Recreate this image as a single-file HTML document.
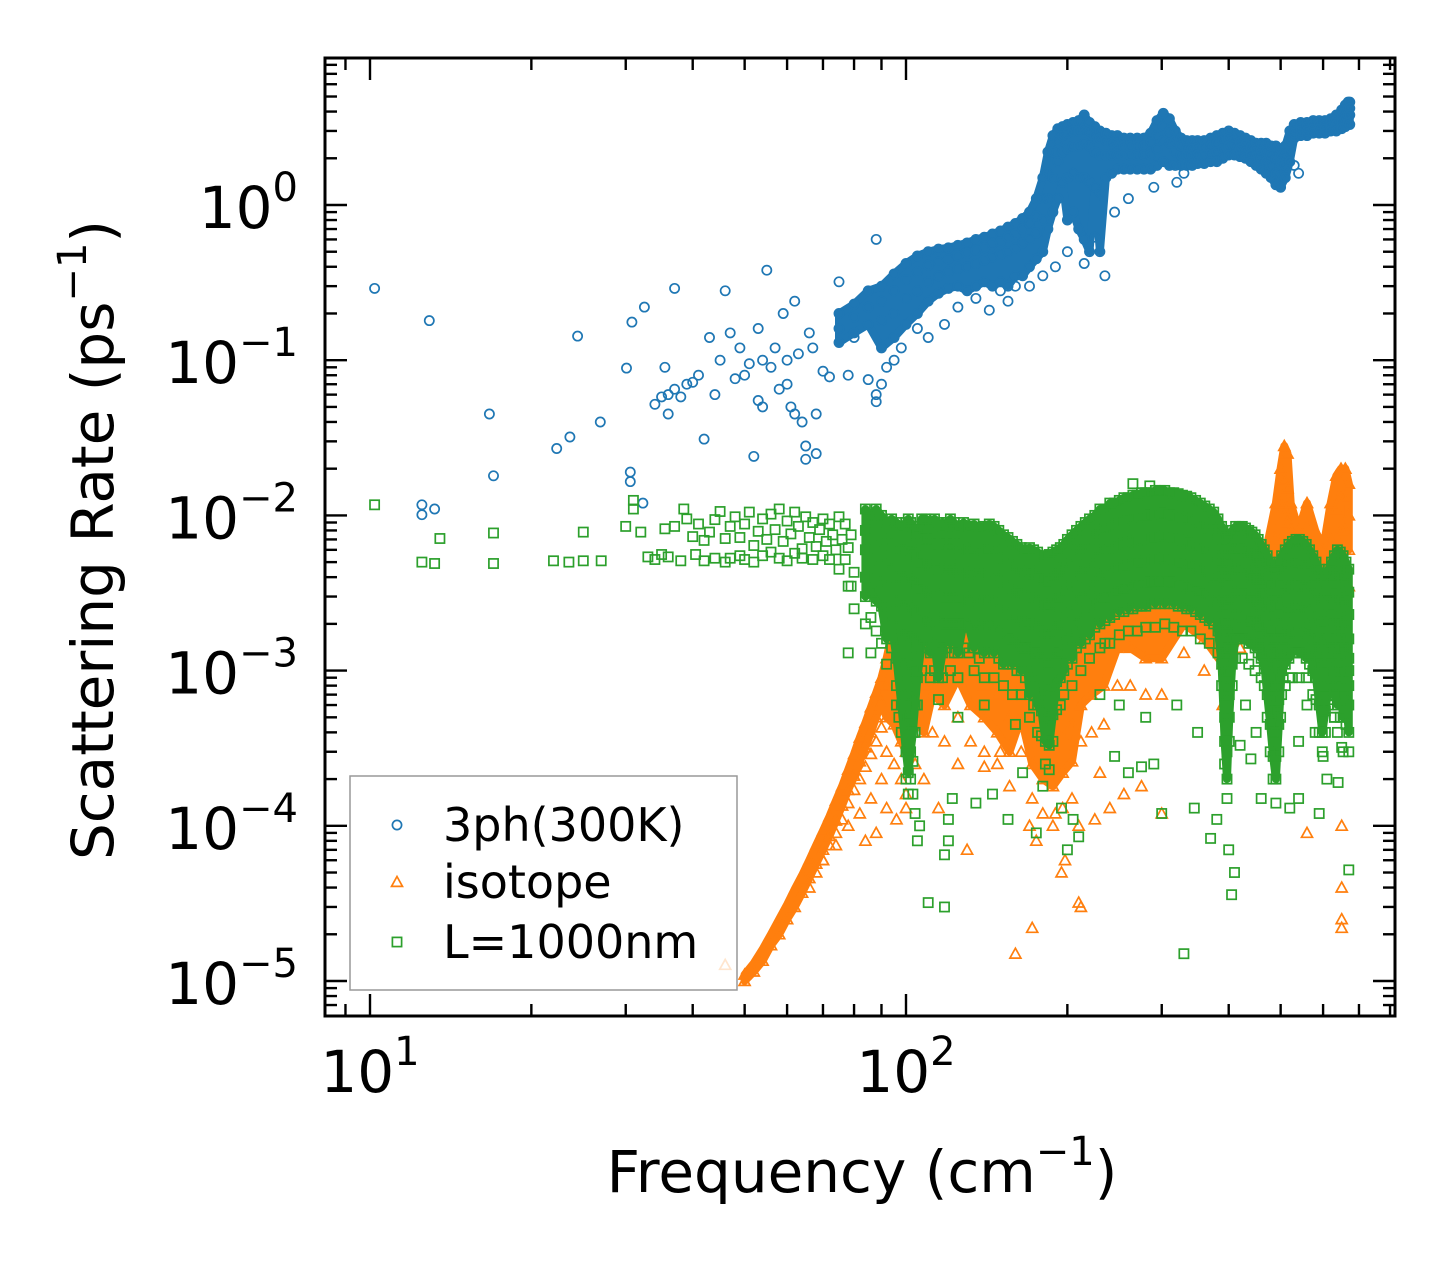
<!DOCTYPE html>
<html><head><meta charset="utf-8"><style>
html,body{margin:0;padding:0;background:#fff;}
svg{display:block;font-family:"DejaVu Sans","Liberation Sans",sans-serif;}
</style></head><body>
<svg id="chart" width="1455" height="1265" viewBox="0 0 1455 1265" xmlns="http://www.w3.org/2000/svg">
<rect x="0" y="0" width="1455" height="1265" fill="#fff"/>
<g id="plotArea"></g>
<g id="axes"></g>
</svg>
<script>
// ---------- data ----------
const xTickExps = [1, 2];
const yTickExps = [0, -1, -2, -3, -4, -5];
const xLabelText = "Frequency (cm";
const yLabelText = "Scattering Rate (ps";
const legendLabels = ["3ph(300K)", "isotope", "L=1000nm"];

const blueScatter = [[10.2,0.29],[12.9,0.18],[16.7,0.045],[17,0.018],[12.5,0.0117],[13.2,0.011],[12.5,0.0101],[22.3,0.027],[23.6,0.032],[24.4,0.143],[26.9,0.040],[30.1,0.089],[30.8,0.176],[30.6,0.019],[30.6,0.0165],[32.5,0.22],[32.3,0.012],[34,0.052],[35,0.058],[36,0.06],[36,0.045],[35.5,0.09],[37,0.29],[37,0.065],[38,0.058],[39,0.07],[40,0.072],[41,0.08],[42,0.031],[43,0.14],[44,0.06],[45,0.1],[46,0.28],[47,0.15],[48,0.076],[49,0.12],[50,0.08],[51,0.095],[52,0.024],[53,0.055],[53,0.16],[54,0.1],[54,0.05],[55,0.38],[56,0.09],[57,0.12],[58,0.065],[59,0.2],[60,0.07],[60,0.1],[61,0.05],[62,0.24],[62,0.045],[63,0.11],[64,0.04],[65,0.028],[65,0.023],[66,0.15],[67,0.12],[68,0.025],[68,0.045],[70,0.085],[72,0.078],[75,0.32],[78,0.08],[80,0.14],[85,0.075],[88,0.06],[88,0.054],[88,0.6],[90,0.07],[92,0.09],[95,0.1],[98,0.12],[105,0.16],[110,0.14],[118,0.17],[125,0.22],[135,0.25],[143,0.21],[150,0.28],[155,0.24],[160,0.3],[170,0.3],[180,0.35],[190,0.4],[200,0.5],[215,0.42],[225,0.62],[235,0.35],[245,0.9],[260,1.1],[290,1.3],[320,1.4],[330,1.6],[530,1.8],[540,1.6]];
const blueGroups = [[75,[.2,.16,.13]],[80,[.23,.19,.15]],[85,[.28,.22,.17]],[90,[.3,.24,.18,.12]],[95,[.36,.28,.2,.14]],[100,[.42,.33,.25,.17]],[105,[.47,.37,.28,.2]],[110,[.5,.41,.32,.24]],[115,[.52,.43,.35,.27]],[120,[.53,.45,.37,.29]],[125,[.55,.47,.39,.3]],[130,[.57,.49,.4,.28]],[135,[.6,.51,.42,.3]],[140,[.62,.53,.44,.32]],[145,[.65,.56,.46,.3]],[150,[.68,.58,.48,.32]],[155,[.72,.62,.5,.3]],[160,[.76,.65,.53,.35]],[165,[.82,.7,.57,.35]],[170,[.9,.76,.6,.4]],[175,[1.1,.85,.66,.45]],[180,[1.5,1.1,.8,.5]],[184,[2.2,1.6,1.1,.7]],[188,[2.8,2.2,1.5,.9]],[192,[3.1,2.6,1.9,1.1]],[196,[3.2,2.8,2.2,1.4]],[200,[3.3,2.9,2.3,1.5,.8]],[205,[3.4,3.0,2.4,1.6,.9]],[210,[3.5,3.0,2.4,1.5,.7]],[215,[3.8,3.1,2.5,1.5,.6]],[220,[3.4,3.0,2.4,1.4,.5]],[225,[3.2,2.8,2.2,1.3]],[230,[3.0,2.7,2.1,1.2,.5]],[236,[2.9,2.6,2.1,1.5]],[242,[2.8,2.5,2.1,1.6]],[248,[2.8,2.5,2.1,1.7]],[255,[2.7,2.4,2.1,1.7]],[262,[2.7,2.4,2.1,1.7]],[270,[2.7,2.4,2.1,1.7]],[278,[2.7,2.4,2.1,1.7]],[286,[2.9,2.5,2.1,1.7]],[294,[3.5,2.8,2.3,1.8]],[302,[3.9,3.2,2.6,1.9]],[310,[3.6,3.0,2.5,1.8]],[318,[3.0,2.6,2.2,1.8]],[326,[2.7,2.4,2.1,1.8]],[334,[2.6,2.3,2.1,1.8]],[342,[2.6,2.3,2.1,1.8]],[350,[2.6,2.35,2.1,1.85]],[360,[2.6,2.35,2.1,1.85]],[370,[2.7,2.4,2.15,1.9]],[380,[2.8,2.5,2.2,1.9]],[390,[2.9,2.6,2.3,2.0]],[400,[3.0,2.7,2.4,2.1]],[410,[2.9,2.6,2.35,2.1]],[420,[2.8,2.55,2.3,2.05]],[430,[2.7,2.45,2.2,2.0]],[440,[2.6,2.35,2.1,1.9]],[450,[2.5,2.3,2.05,1.8]],[460,[2.5,2.25,2.0,1.7]],[470,[2.5,2.2,1.9,1.6]],[480,[2.4,2.1,1.8,1.5]],[490,[2.4,2.0,1.6,1.35]],[500,[2.3,1.9,1.55,1.3]],[510,[2.4,2.1,1.8,1.5]],[520,[3.0,2.6,2.2,1.9]],[530,[3.3,3.1,2.9,2.7]],[545,[3.4,3.2,3.0,2.8]],[560,[3.4,3.2,3.0,2.8]],[575,[3.5,3.3,3.1,2.9]],[590,[3.5,3.3,3.1,2.9]],[605,[3.5,3.3,3.1,2.9]],[620,[3.6,3.4,3.2,3.0]],[635,[3.8,3.5,3.3,3.0]],[650,[4.1,3.7,3.4,3.1]],[660,[4.4,4.0,3.6,3.2]],[668,[4.6,4.2,3.8,3.4]],[673,[4.6,4.2,3.8,3.3]]];

const orangeScatter = [[46,1.27e-5],[160,1.5e-5],[172,2.2e-5],[210,3.2e-5],[212,3e-5],[650,2.2e-5],[650,2.5e-5],[650,4e-5],[560,9e-5],[650,1e-4],[210,1e-4],[225,1.1e-4],[190,1.2e-4],[130,7e-5],[115,1.3e-4],[125,2.5e-4],[170,1e-4],[175,8e-5],[195,5e-5],[198,6e-5],[240,1.3e-4],[255,1.6e-4],[275,1.8e-4],[300,1.2e-4],[140,2.4e-4],[150,3e-4],[230,2.2e-4],[100,1.3e-4],[96,1.1e-4],[92,1.3e-4],[70,6e-5],[74,7.5e-5],[78,1e-4],[82,1.2e-4],[86,1.5e-4],[88,9e-5],[84,8e-5],[90,2e-4]];
const orangeGroups = [[50,[1.1e-5,1e-5]],[52,[1.3e-5,1.15e-5]],[54,[1.6e-5,1.35e-5]],[56,[2e-5,1.7e-5]],[58,[2.5e-5,2e-5]],[60,[3.1e-5,2.5e-5]],[62,[3.9e-5,3e-5]],[64,[4.8e-5,3.7e-5]],[66,[6e-5,4.6e-5,4e-5]],[68,[7.5e-5,5.7e-5,5e-5]],[70,[9.3e-5,7e-5,6e-5]],[72,[1.15e-4,8.6e-5,7.5e-5]],[74,[1.45e-4,1.08e-4,9e-5]],[76,[1.8e-4,1.35e-4,1.1e-4]],[78,[2.3e-4,1.7e-4,1.4e-4]],[80,[2.9e-4,2.1e-4,1.7e-4]],[82,[3.7e-4,2.6e-4,2e-4]],[84,[4.6e-4,3.2e-4,2.4e-4]],[86,[5.8e-4,4e-4,2.9e-4]],[88,[7.2e-4,5e-4,3.5e-4]],[90,[9e-4,6.2e-4,4.3e-4]],[92,[1.2e-3,8e-4,5e-4,3e-4]],[95,[2e-3,1.3e-3,8e-4,4.5e-4,2.5e-4]],[98,[3e-3,1.8e-3,1e-3,6e-4,3.5e-4,2e-4]],[100,[5e-3,2.5e-3,1.2e-3,6e-4,3e-4,1.6e-4]],[104,[8e-3,4e-3,2e-3,1e-3,5e-4,2.5e-4]],[108,[6e-3,3e-3,1.5e-3,8e-4,4e-4,2e-4]],[112,[4e-3,2.2e-3,1.2e-3,7e-4,4e-4]],[118,[3e-3,1.8e-3,1.1e-3,6e-4,3.5e-4]],[125,[2.5e-3,1.5e-3,9e-4,5e-4]],[132,[2.5e-3,1.6e-3,1e-3,6e-4,3.5e-4]],[140,[3e-3,2e-3,1.3e-3,8e-4,5e-4,3e-4]],[148,[2.5e-3,1.7e-3,1.1e-3,7e-4,4e-4,2.5e-4]],[156,[2e-3,1.3e-3,8e-4,5e-4,3e-4,1.8e-4]],[164,[2e-3,1.3e-3,8e-4,5e-4,3e-4]],[172,[1.8e-3,1.2e-3,7e-4,4e-4,2.5e-4,1.5e-4]],[180,[1.6e-3,1e-3,6e-4,3.5e-4,2e-4,1.2e-4]],[188,[1.5e-3,9e-4,5.5e-4,3.2e-4,1.8e-4,1e-4]],[196,[1.8e-3,1.1e-3,6.5e-4,3.8e-4,2.2e-4,1.3e-4]],[204,[2.2e-3,1.4e-3,8e-4,4.5e-4,2.6e-4,1.5e-4]],[212,[2.5e-3,1.6e-3,1e-3,6e-4,3.5e-4]],[222,[3e-3,2e-3,1.2e-3,7e-4,4e-4]],[234,[3.5e-3,2.3e-3,1.4e-3,8e-4,4.5e-4]],[248,[3.5e-3,2.3e-3,1.4e-3,8e-4]],[262,[3.5e-3,2.3e-3,1.4e-3,8e-4]],[280,[3e-3,2e-3,1.2e-3,7e-4]],[300,[3e-3,2e-3,1.2e-3,7e-4]],[330,[3e-3,2e-3,1.3e-3]],[360,[3.5e-3,2.5e-3,1.6e-3,1e-3]],[390,[4e-3,2.8e-3,1.8e-3,1.1e-3,6e-4]],[420,[4.5e-3,3.2e-3,2.2e-3,1.4e-3]],[450,[5e-3,3.5e-3,2.4e-3,1.5e-3]],[470,[6e-3,4e-3,2.6e-3,1.6e-3]],[490,[1.2e-2,7e-3,4e-3,2.5e-3,1.5e-3]],[500,[2e-2,1.2e-2,7e-3,4e-3,2.5e-3]],[508,[2.8e-2,1.7e-2,1e-2,6e-3,3.5e-3]],[515,[2.5e-2,1.5e-2,9e-3,5e-3,3e-3]],[522,[1.2e-2,8e-3,5e-3,3e-3]],[540,[8e-3,5e-3,3.2e-3,2e-3]],[560,[1.2e-2,7e-3,4.5e-3,2.8e-3]],[580,[8e-3,5e-3,3e-3,2e-3]],[600,[6e-3,4e-3,2.5e-3]],[620,[1.2e-2,7e-3,4e-3,2.5e-3]],[635,[1.8e-2,1.1e-2,6e-3,3.5e-3]],[648,[2e-2,1.3e-2,8e-3,4.5e-3,2.5e-3]],[660,[2e-2,1.3e-2,8e-3,4.5e-3]],[670,[1.6e-2,1e-2,6e-3,3.5e-3]]];

const greenScatter = [[10.2,.0117],[12.5,.005],[13.2,.0049],[13.5,.0071],[17,.0077],[17,.0049],[22,.0051],[23.5,.005],[25,.0078],[25,.0051],[27,.0051],[30,.0085],[31,.0125],[31,.011],[32,.0078],[33,.0054],[34,.0052],[35,.0056],[35.5,.0082],[36,.0054],[37,.0085],[38,.0051],[38.5,.011],[39,.0095],[40,.0073],[40.5,.0056],[41,.0088],[42,.0069],[42,.0051],[43,.0078],[44,.0094],[44,.0053],[45,.0106],[46,.0071],[46,.005],[47,.0085],[47,.0053],[48,.0098],[49,.0072],[49,.0055],[50,.0088],[50,.0052],[51,.0105],[52,.0064],[52,.005],[53,.0079],[54,.0095],[54,.0055],[55,.007],[56,.0102],[56,.0058],[57,.0081],[58,.0053],[58,.011],[59,.0068],[60,.0092],[60,.0051],[61,.0076],[62,.0057],[62,.0105],[63,.0085],[64,.0061],[64,.0053],[65,.0098],[66,.0072],[67,.0052],[67,.009],[68,.0063],[69,.0081],[70,.0055],[70,.0095],[71,.0068],[72,.0052],[72,.0088],[73,.0075],[74,.006],[75,.0098],[75,.0045],[76,.007],[77,.0052],[77,.0088],[78,.0062],[79,.0075],[79,.0035],[80,.0043],[78,.0013],[86,.0013],[80,.0025],[78,.0035],[103,1.6e-4],[104,1.2e-4],[106,1e-4],[105,8e-5],[110,3.2e-5],[118,3e-5],[120,8e-5],[118,6.5e-5],[120,1.1e-4],[122,1.5e-4],[135,1.4e-4],[145,1.6e-4],[155,1.1e-4],[165,2.2e-4],[175,9e-5],[180,1.8e-4],[195,1.3e-4],[200,7e-5],[205,1.1e-4],[210,8.5e-5],[245,2.8e-4],[260,2.2e-4],[275,2.4e-4],[290,2.5e-4],[300,1.2e-4],[330,1.5e-5],[345,1.3e-4],[370,8.3e-5],[380,1.1e-4],[400,7e-5],[410,5e-5],[405,3.6e-5],[420,3.3e-4],[440,2.7e-4],[460,1.5e-4],[520,1.3e-4],[540,1.5e-4],[590,1.2e-4],[610,2e-4],[640,1.9e-4],[670,5.2e-5],[540,3.5e-4],[580,4e-4],[630,5e-4],[660,6e-4],[670,1e-3],[97,5e-4],[96,6e-4],[125,5e-4],[140,6e-4],[160,4.5e-4],[230,7e-4],[250,6e-4],[280,5e-4],[320,6e-4],[350,4e-4],[430,6e-4],[450,4e-4],[500,5e-4],[560,6e-4],[600,2.8e-4],[650,3.2e-4],[235,.0015],[265,.016],[285,.0155]];
const greenGroups = [[84,[.011,.008,.006,.004,.003,.002]],[86,[.01,.007,.005,.0032,.0022]],[88,[.011,.009,.006,.004,.0028,.0018]],[90,[.01,.0075,.0055,.0038,.0026,.0015]],[92,[.009,.007,.005,.0035,.0024,.0016,.0011]],[94,[.0095,.0065,.0045,.003,.002,.0014]],[96,[.009,.006,.004,.0028,.0019,.0012,.0008]],[98,[.0085,.0055,.0038,.0025,.0016,.001,.0006,.0004]],[100,[.009,.006,.004,.0026,.0017,.0011,.0007,.00045,.0003,.0002]],[101,[.0095,.0065,.0042,.0028,.0018,.0012,.0008,.0005,.00032,.00022,.00016]],[102,[.009,.006,.004,.0026,.0017,.0011,.0007,.00045,.0003,.0002]],[103,[.0085,.0057,.0038,.0025,.0016,.001,.00065,.0004,.00026]],[104,[.008,.0055,.0036,.0024,.0015,.001,.0006,.0004]],[105,[.0075,.005,.0034,.0022,.0014,.0009,.0006]],[107,[.0095,.007,.005,.0034,.0022,.0015,.001]],[109,[.0095,.007,.0048,.0032,.0021,.0014]],[111,[.009,.0065,.0045,.003,.002,.0013,.0009]],[113,[.0095,.007,.005,.0034,.0022,.0015,.001]],[115,[.009,.0065,.0045,.0031,.0021,.0014,.0009,.00065]],[117,[.0085,.006,.0042,.0029,.002,.0013,.0009]],[119,[.009,.0065,.0045,.003,.002,.0014]],[121,[.0095,.007,.0048,.0033,.0022,.0015,.001]],[123,[.009,.0065,.0045,.003,.002,.0013]],[125,[.0085,.006,.0042,.0029,.002,.0013,.0009]],[128,[.009,.0065,.0045,.003,.002,.0014]],[131,[.0085,.006,.0042,.0028,.0019,.0013]],[134,[.0088,.0062,.0043,.003,.002,.0014,.001]],[137,[.0083,.0058,.004,.0027,.0018,.0012]],[140,[.0085,.006,.0042,.0028,.0019,.0013,.0009]],[143,[.0088,.0062,.0043,.003,.002,.0014]],[146,[.0085,.006,.0041,.0028,.0019,.0013,.0009]],[149,[.008,.0056,.0039,.0027,.0018,.0012]],[152,[.0075,.0053,.0037,.0025,.0017,.0011,.0008]],[155,[.0072,.005,.0035,.0024,.0016,.0011]],[158,[.0068,.0048,.0034,.0023,.0016,.0011,.0007]],[161,[.0065,.0046,.0032,.0022,.0015,.001]],[164,[.0062,.0044,.0031,.0021,.0014,.001,.0007]],[167,[.006,.0042,.003,.002,.0014,.0009]],[170,[.0062,.0044,.0031,.0021,.0014,.001,.0007,.0005]],[173,[.006,.0042,.003,.002,.0013,.0009,.0006]],[176,[.0058,.004,.0028,.0019,.0013,.0009,.0006,.0004]],[179,[.0055,.0039,.0027,.0018,.0012,.0008,.00055,.00038]],[182,[.0055,.0038,.0026,.0017,.0011,.00075,.0005,.00035,.00025]],[185,[.0056,.0038,.0026,.0017,.0011,.0007,.00048,.00033,.00023]],[188,[.0058,.004,.0027,.0018,.0012,.0008,.00052,.00035]],[191,[.006,.0042,.0029,.0019,.0013,.00085,.00056]],[194,[.0062,.0044,.003,.002,.0013,.0009,.0006]],[197,[.0065,.0046,.0032,.0022,.0015,.001,.0007]],[200,[.007,.005,.0035,.0024,.0016,.0011]],[204,[.0075,.0053,.0037,.0026,.0018,.0012,.0008]],[208,[.008,.0056,.004,.0028,.002,.0014]],[212,[.0085,.006,.0043,.003,.0021,.0015,.001]],[216,[.009,.0065,.0046,.0033,.0023,.0016]],[220,[.0095,.007,.005,.0035,.0025,.0017,.0012]],[225,[.01,.0075,.0053,.0038,.0027,.0019]],[230,[.011,.008,.0057,.004,.0029,.002,.0014]],[235,[.011,.0082,.006,.0042,.003,.0021]],[240,[.012,.0085,.006,.0043,.003,.0022,.0015]],[245,[.012,.0088,.0063,.0045,.0032,.0023]],[250,[.0125,.009,.0065,.0046,.0033,.0024,.0017]],[255,[.013,.0092,.0066,.0047,.0034,.0024]],[260,[.013,.0094,.0067,.0048,.0034,.0025,.0018]],[265,[.0135,.0096,.0068,.0049,.0035,.0025]],[270,[.0135,.0097,.0069,.005,.0036,.0026,.0018]],[275,[.014,.0098,.007,.005,.0036,.0026]],[280,[.014,.01,.0071,.0051,.0037,.0026,.0019]],[286,[.014,.01,.0072,.0052,.0037,.0027]],[292,[.0145,.0102,.0073,.0052,.0038,.0027,.0019]],[298,[.0145,.0103,.0074,.0053,.0038,.0027]],[304,[.0145,.0103,.0074,.0053,.0038,.0027,.002]],[310,[.014,.01,.0072,.0052,.0037,.0027]],[316,[.014,.01,.0072,.0052,.0037,.0027,.0019]],[322,[.0138,.0098,.007,.005,.0036,.0026]],[328,[.0135,.0097,.0069,.005,.0036,.0026,.0018]],[334,[.0133,.0095,.0068,.0049,.0035,.0025]],[340,[.013,.0093,.0066,.0048,.0034,.0025,.0018]],[347,[.0125,.009,.0064,.0046,.0033,.0024]],[354,[.012,.0087,.0062,.0045,.0032,.0023,.0016]],[361,[.0115,.0083,.006,.0043,.0031,.0022]],[368,[.011,.008,.0057,.0041,.003,.0021,.0015]],[375,[.0105,.0076,.0055,.004,.0028,.002]],[382,[.0095,.007,.005,.0036,.0026,.0018,.0013]],[388,[.0085,.0062,.0045,.0032,.0023,.0016,.0011,.0008]],[393,[.0075,.0055,.004,.0028,.002,.0014,.001,.0007,.0005,.00035,.00025]],[397,[.007,.005,.0036,.0026,.0018,.0013,.0009,.00065,.00045,.0003,.0002,.00015]],[401,[.0075,.0055,.004,.0028,.002,.0014,.001,.0007,.0005,.00035]],[406,[.008,.006,.0043,.003,.0022,.0016,.0011,.0008]],[412,[.0085,.0062,.0045,.0032,.0023,.0016,.0012]],[418,[.0085,.0062,.0045,.0032,.0023,.0016]],[424,[.0085,.0062,.0045,.0032,.0023,.0016,.0012]],[430,[.0083,.006,.0044,.0031,.0022,.0016]],[436,[.008,.0058,.0042,.003,.0021,.0015,.0011]],[442,[.0078,.0056,.004,.0029,.0021,.0015]],[448,[.0075,.0054,.0039,.0028,.002,.0014,.001]],[454,[.007,.005,.0036,.0026,.0019,.0013]],[460,[.0065,.0047,.0034,.0024,.0017,.0012,.0009]],[466,[.006,.0043,.0031,.0022,.0016,.0011,.0008]],[472,[.0055,.004,.0028,.002,.0014,.001,.0007,.0005]],[478,[.005,.0036,.0026,.0018,.0013,.0009,.00065,.00045,.0003]],[484,[.0045,.0032,.0023,.0016,.0012,.0008,.00058,.0004,.00028,.0002]],[490,[.0045,.0032,.0023,.0016,.0011,.0008,.00055,.0004,.00028,.0002,.00014]],[496,[.005,.0036,.0026,.0018,.0013,.0009,.00065,.00045,.0003]],[502,[.0055,.004,.0028,.002,.0014,.001,.0007]],[510,[.006,.0043,.0031,.0022,.0016,.0011,.0008]],[518,[.0065,.0047,.0034,.0024,.0017,.0012,.0009]],[526,[.0068,.0049,.0035,.0025,.0018,.0013,.0009]],[534,[.007,.005,.0036,.0026,.0018,.0013]],[542,[.007,.005,.0036,.0026,.0018,.0013,.0009]],[550,[.0068,.0049,.0035,.0025,.0018,.0013]],[558,[.0065,.0047,.0034,.0024,.0017,.0012,.0009]],[566,[.006,.0043,.0031,.0022,.0016,.0011]],[574,[.0055,.004,.0028,.002,.0014,.001,.0007]],[582,[.005,.0036,.0026,.0018,.0013,.0009,.00065]],[590,[.0045,.0032,.0023,.0016,.0012,.0008,.0006,.0004]],[598,[.004,.0029,.0021,.0015,.0011,.0008,.00055,.0004,.0003]],[606,[.004,.0029,.0021,.0015,.0011,.0008,.00055,.0004]],[614,[.0045,.0032,.0023,.0016,.0012,.0008,.0006]],[622,[.005,.0036,.0026,.0018,.0013,.0009,.00065]],[630,[.0055,.004,.0028,.002,.0014,.001,.0007,.0005]],[638,[.006,.0043,.0031,.0022,.0016,.0011,.0008,.0006,.0004]],[646,[.0058,.0042,.003,.0021,.0015,.0011,.0008,.0005]],[654,[.0055,.004,.0028,.002,.0014,.001,.0007,.0005,.0003]],[662,[.005,.0036,.0026,.0018,.0013,.0009,.00065,.00045]],[670,[.0045,.0032,.0023,.0016,.0012,.0008,.0006,.0004,.0003]]];

// ---------- layout ----------
const NS = "http://www.w3.org/2000/svg";
const L = 325, R = 1395, T = 58, B = 1016;
const X10 = 370, XDEC = 536, Y1 = 205, YDEC = 155.2;
function xs(f){ return X10 + XDEC*(Math.log10(f)-1); }
function ys(r){ return Y1 - YDEC*Math.log10(r); }
function mk(tag, attrs, parent){ const e=document.createElementNS(NS,tag); for(const k in attrs) e.setAttribute(k,attrs[k]); parent.appendChild(e); return e; }

const plot = document.getElementById('plotArea');
const axes = document.getElementById('axes');
const COLORS = {blue:"#1f77b4", orange:"#ff7f0e", green:"#2ca02c"};

function marker(kind, x, y, color, parent){
  let e;
  if(kind==='circle'){ e = mk('circle',{cx:x.toFixed(1),cy:y.toFixed(1),r:4.6,fill:'none',stroke:color,'stroke-width':1.7},parent); }
  else if(kind==='tri'){ const s=5.5; e = mk('polygon',{points:`${(x).toFixed(1)},${(y-s).toFixed(1)} ${(x+s).toFixed(1)},${(y+s*0.8).toFixed(1)} ${(x-s).toFixed(1)},${(y+s*0.8).toFixed(1)}`,fill:'none',stroke:color,'stroke-width':1.7},parent); }
  else { e = mk('rect',{x:(x-4.6).toFixed(1),y:(y-4.6).toFixed(1),width:9.2,height:9.2,fill:'none',stroke:color,'stroke-width':1.7},parent); }
  return e;
}
function envelope(groups, color, name, parent, full){
  const top=[], bot=[];
  groups.forEach(g=>{ const rs=g[1].slice().sort((a,b)=>b-a); const lo = (!full && rs.length>=3) ? rs[rs.length-2] : rs[rs.length-1]; top.push([xs(g[0]),ys(rs[0])]); bot.push([xs(g[0]),ys(lo)]); });
  const pts = top.concat(bot.reverse()).map(p=>p[0].toFixed(1)+','+p[1].toFixed(1)).join(' ');
  const p = mk('polygon',{points:pts,fill:color,stroke:color,'stroke-width':8,'stroke-linejoin':'round'},parent);
  
  
}
function series(groups, scatter, kind, color, name, full){
  const g = mk('g',{},plot);
  
  
  envelope(groups, color, name+'-dense-band', g, full);
  groups.forEach(gr=>{ gr[1].forEach(r=>{ const m=marker(kind, xs(gr[0]), ys(r), color, g);
    
     }); });
  scatter.forEach(p=>{ const m=marker(kind, xs(p[0]), ys(p[1]), color, g);
    
     });
}
series(blueGroups, blueScatter, 'circle', COLORS.blue, '3ph-series', true);
series(orangeGroups, orangeScatter, 'tri', COLORS.orange, 'isotope-series', false);
series(greenGroups, greenScatter, 'sq', COLORS.green, 'boundary-series', false);

// ---------- axes / ticks ----------
const frame = mk('rect',{x:L,y:T,width:R-L,height:B-T,fill:'none',stroke:'#000','stroke-width':3},axes);


const tg = mk('g',{stroke:'#000','stroke-width':2.4},axes);


for(let e=0;e<=2;e++){ for(let m=1;m<=9;m++){ const v=m*Math.pow(10,e); const x=xs(v); if(x<L+1||x>R-1) continue; const len = m===1?22:12;
  mk('line',{x1:x,y1:B,x2:x,y2:B-len},tg); mk('line',{x1:x,y1:T,x2:x,y2:T+len},tg); } }
for(let e=-6;e<=0;e++){ for(let m=1;m<=9;m++){ const v=m*Math.pow(10,e); const y=ys(v); if(y<T+1||y>B-1) continue; const len = m===1?22:12;
  mk('line',{x1:L,y1:y,x2:L+len,y2:y},tg); mk('line',{x1:R,y1:y,x2:R-len,y2:y},tg); } }
xTickExps.forEach(e=>{ const t = mk('text',{x:xs(Math.pow(10,e)),y:1092,'text-anchor':'middle','font-size':58,fill:'#000'},axes);
  
  
  t.innerHTML = '10<tspan font-size="40" dy="-27">'+e+'</tspan>'; });
yTickExps.forEach(e=>{ const t = mk('text',{x:298,y:ys(Math.pow(10,e))+23,'text-anchor':'end','font-size':58,fill:'#000'},axes);
  
  
  t.innerHTML = '10<tspan font-size="40" dy="-27">'+(e<0?'\u2212'+(-e):e)+'</tspan>'; });
const xt = mk('text',{x:862,y:1192,'text-anchor':'middle','font-size':58,fill:'#000'},axes);


xt.innerHTML = xLabelText+'<tspan font-size="40" dy="-27">\u22121</tspan><tspan dy="27">)</tspan>';
const yt = mk('text',{x:0,y:0,'text-anchor':'middle','font-size':58,fill:'#000',transform:'translate(113,540) rotate(-90)'},axes);


yt.innerHTML = yLabelText+'<tspan font-size="40" dy="-27">\u22121</tspan><tspan dy="27">)</tspan>';

// ---------- legend ----------
const lg = mk('g',{},axes);


mk('rect',{x:350,y:776,width:387,height:214,fill:'#fff','fill-opacity':0.8,stroke:'#999','stroke-width':1.5},lg);
const legKinds = ['circle','tri','sq'], legCols=[COLORS.blue,COLORS.orange,COLORS.green], legY=[825,882,942];
legendLabels.forEach((lab,i)=>{
  const m = marker(legKinds[i], 397, legY[i], legCols[i], lg);
  
  
  const t = mk('text',{x:443,y:legY[i]+16,'font-size':46,fill:'#000'},lg);
  
  
  t.textContent = lab;
});
</script>
</body></html>
